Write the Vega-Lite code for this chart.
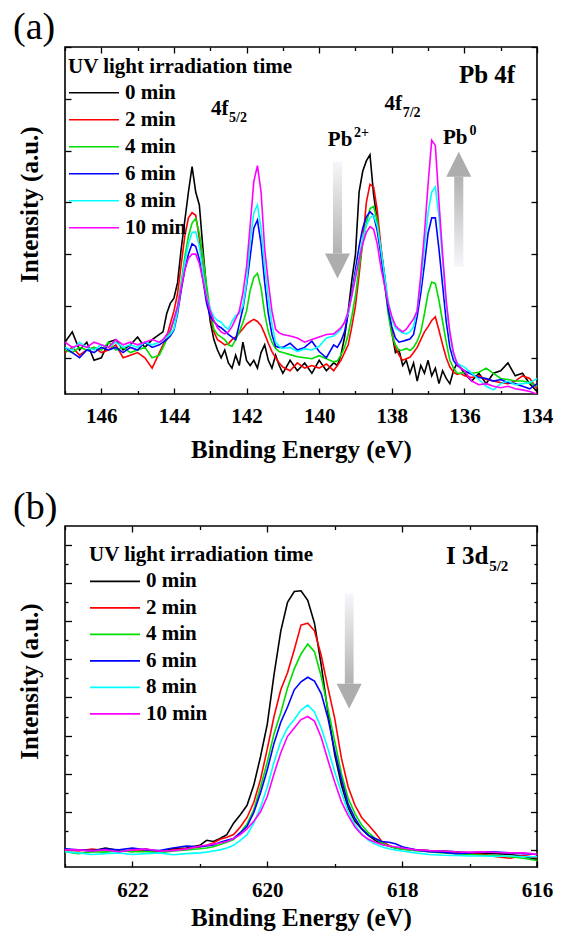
{
"$schema":"https://vega.github.io/schema/vega-lite/v6.json",
"background":"white",
"padding":{"left":12,"top":8,"right":0,"bottom":0},
"spacing":23,
"config":{
 "font":"Liberation Serif",
 "view":{"stroke":"#000","strokeWidth":1.6},
 "axis":{"labelFont":"Liberation Serif","titleFont":"Liberation Serif","labelColor":"#000","titleColor":"#000","tickColor":"#000","tickWidth":1.3,"domain":false,"grid":false,"labelFlush":false,"labelOverlap":false,"labelFontSize":21,"labelFontWeight":"bold","titleFontSize":25,"titleFontWeight":"bold"},
 "text":{"font":"Liberation Serif","fontWeight":"bold","color":"#000","align":"left","baseline":"alphabetic"}
},
"resolve":{"scale":{"color":"independent"}},
"datasets":{
"pa":[
{"s":"0 min","e":147,"i":0.3},{"s":"0 min","e":146.8,"i":0.5},{"s":"0 min","e":146.6,"i":0.15},{"s":"0 min","e":146.4,"i":0.3},{"s":"0 min","e":146.2,"i":-0.05},{"s":"0 min","e":146,"i":0},{"s":"0 min","e":145.8,"i":0.3},{"s":"0 min","e":145.6,"i":0.35},{"s":"0 min","e":145.4,"i":0.15},{"s":"0 min","e":145.2,"i":0.25},{"s":"0 min","e":145,"i":0.4},{"s":"0 min","e":144.8,"i":0.2},{"s":"0 min","e":144.6,"i":0.35},{"s":"0 min","e":144.4,"i":0.45},
{"s":"0 min","e":144.3,"i":0.5},{"s":"0 min","e":144.2,"i":0.85},{"s":"0 min","e":144.1,"i":1.05},{"s":"0 min","e":144,"i":1.15},{"s":"0 min","e":143.9,"i":1.45},{"s":"0 min","e":143.8,"i":2.1},{"s":"0 min","e":143.7,"i":2.65},{"s":"0 min","e":143.6,"i":3.2},{"s":"0 min","e":143.5,"i":3.69},{"s":"0 min","e":143.4,"i":3.2},{"s":"0 min","e":143.3,"i":2.95},{"s":"0 min","e":143.2,"i":2.1},{"s":"0 min","e":143.1,"i":1.3},{"s":"0 min","e":143,"i":0.7},{"s":"0 min","e":142.9,"i":0.35},{"s":"0 min","e":142.8,"i":0.15},{"s":"0 min","e":142.7,"i":0},{"s":"0 min","e":142.6,"i":0.15},{"s":"0 min","e":142.5,"i":-0.1},{"s":"0 min","e":142.4,"i":-0.2},{"s":"0 min","e":142.3,"i":0.05},{"s":"0 min","e":142.2,"i":-0.15},{"s":"0 min","e":142.1,"i":0.3},{"s":"0 min","e":142,"i":-0.05},{"s":"0 min","e":141.9,"i":-0.15},{"s":"0 min","e":141.8,"i":-0.05},{"s":"0 min","e":141.7,"i":-0.2},{"s":"0 min","e":141.6,"i":0.1},{"s":"0 min","e":141.5,"i":0.25},{"s":"0 min","e":141.4,"i":-0.05},{"s":"0 min","e":141.3,"i":-0.2},{"s":"0 min","e":141.2,"i":0.05},{"s":"0 min","e":141.1,"i":-0.15},{"s":"0 min","e":141,"i":-0.3},
{"s":"0 min","e":140.8,"i":-0.05},{"s":"0 min","e":140.6,"i":-0.25},{"s":"0 min","e":140.4,"i":-0.1},{"s":"0 min","e":140.2,"i":-0.3},{"s":"0 min","e":140,"i":-0.05},{"s":"0 min","e":139.8,"i":-0.25},{"s":"0 min","e":139.6,"i":-0.1},
{"s":"0 min","e":139.5,"i":-0.15},{"s":"0 min","e":139.4,"i":0.05},{"s":"0 min","e":139.3,"i":0.4},{"s":"0 min","e":139.2,"i":0.9},{"s":"0 min","e":139.1,"i":1.5},{"s":"0 min","e":139,"i":2},{"s":"0 min","e":138.9,"i":3.2},{"s":"0 min","e":138.8,"i":3.6},{"s":"0 min","e":138.7,"i":3.8},{"s":"0 min","e":138.6,"i":3.92},{"s":"0 min","e":138.5,"i":3.15},{"s":"0 min","e":138.4,"i":2.65},{"s":"0 min","e":138.3,"i":2.1},{"s":"0 min","e":138.2,"i":1.6},{"s":"0 min","e":138.1,"i":1},{"s":"0 min","e":138,"i":0.5},{"s":"0 min","e":137.9,"i":0.1},{"s":"0 min","e":137.8,"i":0.15},{"s":"0 min","e":137.7,"i":-0.15},{"s":"0 min","e":137.6,"i":-0.05},{"s":"0 min","e":137.5,"i":-0.3},{"s":"0 min","e":137.4,"i":-0.1},{"s":"0 min","e":137.3,"i":-0.45},{"s":"0 min","e":137.2,"i":-0.15},{"s":"0 min","e":137.1,"i":-0.3},{"s":"0 min","e":137,"i":-0.05},{"s":"0 min","e":136.9,"i":-0.35},{"s":"0 min","e":136.8,"i":-0.2},{"s":"0 min","e":136.7,"i":-0.5},{"s":"0 min","e":136.6,"i":-0.25},{"s":"0 min","e":136.5,"i":-0.4},{"s":"0 min","e":136.4,"i":-0.5},{"s":"0 min","e":136.3,"i":-0.25},{"s":"0 min","e":136.2,"i":-0.1},{"s":"0 min","e":136.1,"i":-0.2},{"s":"0 min","e":136,"i":-0.3},
{"s":"0 min","e":135.8,"i":-0.45},{"s":"0 min","e":135.6,"i":-0.3},{"s":"0 min","e":135.4,"i":-0.5},{"s":"0 min","e":135.2,"i":-0.3},{"s":"0 min","e":135,"i":-0.25},{"s":"0 min","e":134.8,"i":-0.1},{"s":"0 min","e":134.6,"i":-0.35},{"s":"0 min","e":134.4,"i":-0.3},{"s":"0 min","e":134.2,"i":-0.5},{"s":"0 min","e":134,"i":-0.65},

{"s":"2 min","e":147,"i":0.1},{"s":"2 min","e":146.8,"i":0.2},{"s":"2 min","e":146.6,"i":0.05},{"s":"2 min","e":146.4,"i":0.15},{"s":"2 min","e":146.2,"i":0.2},{"s":"2 min","e":146,"i":0.1},{"s":"2 min","e":145.8,"i":0.15},{"s":"2 min","e":145.6,"i":0.25},{"s":"2 min","e":145.4,"i":0},{"s":"2 min","e":145.2,"i":0.05},{"s":"2 min","e":145,"i":0.1},{"s":"2 min","e":144.8,"i":0},{"s":"2 min","e":144.6,"i":-0.2},{"s":"2 min","e":144.4,"i":0.1},
{"s":"2 min","e":144.3,"i":0.25},{"s":"2 min","e":144.2,"i":0.4},{"s":"2 min","e":144.1,"i":0.66},{"s":"2 min","e":144,"i":0.9},{"s":"2 min","e":143.9,"i":1.24},{"s":"2 min","e":143.8,"i":1.8},{"s":"2 min","e":143.7,"i":2.35},{"s":"2 min","e":143.6,"i":2.7},{"s":"2 min","e":143.5,"i":2.8},{"s":"2 min","e":143.4,"i":2.75},{"s":"2 min","e":143.3,"i":2.3},{"s":"2 min","e":143.2,"i":1.7},{"s":"2 min","e":143.1,"i":1.25},{"s":"2 min","e":143,"i":0.8},{"s":"2 min","e":142.9,"i":0.5},{"s":"2 min","e":142.8,"i":0.35},{"s":"2 min","e":142.7,"i":0.3},{"s":"2 min","e":142.6,"i":0.25},{"s":"2 min","e":142.5,"i":0.27},{"s":"2 min","e":142.4,"i":0.35},{"s":"2 min","e":142.3,"i":0.4},{"s":"2 min","e":142.2,"i":0.48},{"s":"2 min","e":142.1,"i":0.56},{"s":"2 min","e":142,"i":0.65},{"s":"2 min","e":141.9,"i":0.7},{"s":"2 min","e":141.8,"i":0.74},{"s":"2 min","e":141.7,"i":0.7},{"s":"2 min","e":141.6,"i":0.62},{"s":"2 min","e":141.5,"i":0.46},{"s":"2 min","e":141.4,"i":0.28},{"s":"2 min","e":141.3,"i":0.12},{"s":"2 min","e":141.2,"i":0},{"s":"2 min","e":141.1,"i":-0.1},{"s":"2 min","e":141,"i":-0.18},
{"s":"2 min","e":140.8,"i":-0.25},{"s":"2 min","e":140.6,"i":-0.1},{"s":"2 min","e":140.4,"i":-0.2},{"s":"2 min","e":140.2,"i":-0.15},{"s":"2 min","e":140,"i":-0.2},{"s":"2 min","e":139.8,"i":-0.12},{"s":"2 min","e":139.6,"i":-0.25},
{"s":"2 min","e":139.5,"i":-0.15},{"s":"2 min","e":139.4,"i":-0.05},{"s":"2 min","e":139.3,"i":0.1},{"s":"2 min","e":139.2,"i":0.25},{"s":"2 min","e":139.1,"i":0.6},{"s":"2 min","e":139,"i":1},{"s":"2 min","e":138.9,"i":1.6},{"s":"2 min","e":138.8,"i":2.25},{"s":"2 min","e":138.7,"i":3},{"s":"2 min","e":138.6,"i":3.35},{"s":"2 min","e":138.5,"i":3.3},{"s":"2 min","e":138.4,"i":2.85},{"s":"2 min","e":138.3,"i":2.15},{"s":"2 min","e":138.2,"i":1.55},{"s":"2 min","e":138.1,"i":0.95},{"s":"2 min","e":138,"i":0.5},{"s":"2 min","e":137.9,"i":0.2},{"s":"2 min","e":137.8,"i":0.05},{"s":"2 min","e":137.7,"i":-0.05},{"s":"2 min","e":137.6,"i":-0.02},{"s":"2 min","e":137.5,"i":0.01},{"s":"2 min","e":137.4,"i":0.1},{"s":"2 min","e":137.3,"i":0.2},{"s":"2 min","e":137.2,"i":0.35},{"s":"2 min","e":137.1,"i":0.5},{"s":"2 min","e":137,"i":0.6},{"s":"2 min","e":136.9,"i":0.72},{"s":"2 min","e":136.8,"i":0.79},{"s":"2 min","e":136.7,"i":0.53},{"s":"2 min","e":136.6,"i":0.25},{"s":"2 min","e":136.5,"i":0},{"s":"2 min","e":136.4,"i":-0.18},{"s":"2 min","e":136.3,"i":-0.28},{"s":"2 min","e":136.2,"i":-0.32},{"s":"2 min","e":136.1,"i":-0.3},{"s":"2 min","e":136,"i":-0.35},
{"s":"2 min","e":135.8,"i":-0.38},{"s":"2 min","e":135.6,"i":-0.35},{"s":"2 min","e":135.4,"i":-0.42},{"s":"2 min","e":135.2,"i":-0.45},{"s":"2 min","e":135,"i":-0.48},{"s":"2 min","e":134.8,"i":-0.5},{"s":"2 min","e":134.6,"i":-0.45},{"s":"2 min","e":134.4,"i":-0.35},{"s":"2 min","e":134.2,"i":-0.4},{"s":"2 min","e":134,"i":-0.6},

{"s":"4 min","e":147,"i":0.15},{"s":"4 min","e":146.8,"i":0.1},{"s":"4 min","e":146.6,"i":0.2},{"s":"4 min","e":146.4,"i":0.15},{"s":"4 min","e":146.2,"i":0.2},{"s":"4 min","e":146,"i":0.15},{"s":"4 min","e":145.8,"i":0.3},{"s":"4 min","e":145.6,"i":0.15},{"s":"4 min","e":145.4,"i":0.2},{"s":"4 min","e":145.2,"i":0.1},{"s":"4 min","e":145,"i":0.15},{"s":"4 min","e":144.8,"i":0.2},{"s":"4 min","e":144.6,"i":0},{"s":"4 min","e":144.4,"i":0.05},
{"s":"4 min","e":144.3,"i":0.2},{"s":"4 min","e":144.2,"i":0.35},{"s":"4 min","e":144.1,"i":0.5},{"s":"4 min","e":144,"i":0.72},{"s":"4 min","e":143.9,"i":1},{"s":"4 min","e":143.8,"i":1.45},{"s":"4 min","e":143.7,"i":1.95},{"s":"4 min","e":143.6,"i":2.35},{"s":"4 min","e":143.5,"i":2.6},{"s":"4 min","e":143.4,"i":2.69},{"s":"4 min","e":143.3,"i":2.4},{"s":"4 min","e":143.2,"i":1.95},{"s":"4 min","e":143.1,"i":1.4},{"s":"4 min","e":143,"i":0.9},{"s":"4 min","e":142.9,"i":0.55},{"s":"4 min","e":142.8,"i":0.45},{"s":"4 min","e":142.7,"i":0.4},{"s":"4 min","e":142.6,"i":0.35},{"s":"4 min","e":142.5,"i":0.25},{"s":"4 min","e":142.4,"i":0.22},{"s":"4 min","e":142.3,"i":0.35},{"s":"4 min","e":142.2,"i":0.5},{"s":"4 min","e":142.1,"i":0.68},{"s":"4 min","e":142,"i":0.9},{"s":"4 min","e":141.9,"i":1.3},{"s":"4 min","e":141.8,"i":1.55},{"s":"4 min","e":141.7,"i":1.63},{"s":"4 min","e":141.6,"i":1.35},{"s":"4 min","e":141.5,"i":0.85},{"s":"4 min","e":141.4,"i":0.5},{"s":"4 min","e":141.3,"i":0.3},{"s":"4 min","e":141.2,"i":0.18},{"s":"4 min","e":141.1,"i":0.12},{"s":"4 min","e":141,"i":0.1},
{"s":"4 min","e":140.8,"i":0.06},{"s":"4 min","e":140.6,"i":0.02},{"s":"4 min","e":140.4,"i":0},{"s":"4 min","e":140.2,"i":-0.02},{"s":"4 min","e":140,"i":0.04},{"s":"4 min","e":139.8,"i":-0.02},{"s":"4 min","e":139.6,"i":-0.08},
{"s":"4 min","e":139.5,"i":-0.06},{"s":"4 min","e":139.4,"i":0.05},{"s":"4 min","e":139.3,"i":0.2},{"s":"4 min","e":139.2,"i":0.45},{"s":"4 min","e":139.1,"i":0.8},{"s":"4 min","e":139,"i":1.2},{"s":"4 min","e":138.9,"i":1.75},{"s":"4 min","e":138.8,"i":2.2},{"s":"4 min","e":138.7,"i":2.6},{"s":"4 min","e":138.6,"i":2.88},{"s":"4 min","e":138.5,"i":2.92},{"s":"4 min","e":138.4,"i":2.65},{"s":"4 min","e":138.3,"i":2},{"s":"4 min","e":138.2,"i":1.45},{"s":"4 min","e":138.1,"i":0.85},{"s":"4 min","e":138,"i":0.45},{"s":"4 min","e":137.9,"i":0.25},{"s":"4 min","e":137.8,"i":0.14},{"s":"4 min","e":137.7,"i":0.15},{"s":"4 min","e":137.6,"i":0.18},{"s":"4 min","e":137.5,"i":0.14},{"s":"4 min","e":137.4,"i":0.2},{"s":"4 min","e":137.3,"i":0.32},{"s":"4 min","e":137.2,"i":0.5},{"s":"4 min","e":137.1,"i":0.85},{"s":"4 min","e":137,"i":1.24},{"s":"4 min","e":136.9,"i":1.46},{"s":"4 min","e":136.8,"i":1.43},{"s":"4 min","e":136.7,"i":1.11},{"s":"4 min","e":136.6,"i":0.7},{"s":"4 min","e":136.5,"i":0.3},{"s":"4 min","e":136.4,"i":-0.05},{"s":"4 min","e":136.3,"i":-0.2},{"s":"4 min","e":136.2,"i":-0.3},{"s":"4 min","e":136.1,"i":-0.3},{"s":"4 min","e":136,"i":-0.28},
{"s":"4 min","e":135.8,"i":-0.3},{"s":"4 min","e":135.6,"i":-0.28},{"s":"4 min","e":135.4,"i":-0.2},{"s":"4 min","e":135.2,"i":-0.3},{"s":"4 min","e":135,"i":-0.4},{"s":"4 min","e":134.8,"i":-0.42},{"s":"4 min","e":134.6,"i":-0.45},{"s":"4 min","e":134.4,"i":-0.45},{"s":"4 min","e":134.2,"i":-0.48},{"s":"4 min","e":134,"i":-0.55},

{"s":"6 min","e":147,"i":0.2},{"s":"6 min","e":146.8,"i":0.1},{"s":"6 min","e":146.6,"i":0},{"s":"6 min","e":146.4,"i":0.15},{"s":"6 min","e":146.2,"i":0.1},{"s":"6 min","e":146,"i":0.2},{"s":"6 min","e":145.8,"i":0.15},{"s":"6 min","e":145.6,"i":0.2},{"s":"6 min","e":145.4,"i":0.1},{"s":"6 min","e":145.2,"i":0.2},{"s":"6 min","e":145,"i":0.15},{"s":"6 min","e":144.8,"i":0.3},{"s":"6 min","e":144.6,"i":0.2},{"s":"6 min","e":144.4,"i":0.25},
{"s":"6 min","e":144.3,"i":0.3},{"s":"6 min","e":144.2,"i":0.35},{"s":"6 min","e":144.1,"i":0.42},{"s":"6 min","e":144,"i":0.53},{"s":"6 min","e":143.9,"i":0.85},{"s":"6 min","e":143.8,"i":1.3},{"s":"6 min","e":143.7,"i":1.7},{"s":"6 min","e":143.6,"i":2},{"s":"6 min","e":143.5,"i":2.2},{"s":"6 min","e":143.4,"i":2.15},{"s":"6 min","e":143.3,"i":1.9},{"s":"6 min","e":143.2,"i":1.5},{"s":"6 min","e":143.1,"i":1.05},{"s":"6 min","e":143,"i":0.8},{"s":"6 min","e":142.9,"i":0.7},{"s":"6 min","e":142.8,"i":0.62},{"s":"6 min","e":142.7,"i":0.58},{"s":"6 min","e":142.6,"i":0.52},{"s":"6 min","e":142.5,"i":0.45},{"s":"6 min","e":142.4,"i":0.4},{"s":"6 min","e":142.3,"i":0.35},{"s":"6 min","e":142.2,"i":0.65},{"s":"6 min","e":142.1,"i":0.95},{"s":"6 min","e":142,"i":1.4},{"s":"6 min","e":141.9,"i":1.95},{"s":"6 min","e":141.8,"i":2.5},{"s":"6 min","e":141.7,"i":2.66},{"s":"6 min","e":141.6,"i":2.2},{"s":"6 min","e":141.5,"i":1.45},{"s":"6 min","e":141.4,"i":0.85},{"s":"6 min","e":141.3,"i":0.45},{"s":"6 min","e":141.2,"i":0.22},{"s":"6 min","e":141.1,"i":0.2},{"s":"6 min","e":141,"i":0.2},
{"s":"6 min","e":140.8,"i":0.28},{"s":"6 min","e":140.6,"i":0.15},{"s":"6 min","e":140.4,"i":0.2},{"s":"6 min","e":140.2,"i":0.32},{"s":"6 min","e":140,"i":0.12},{"s":"6 min","e":139.8,"i":0},{"s":"6 min","e":139.6,"i":0.25},
{"s":"6 min","e":139.5,"i":0.2},{"s":"6 min","e":139.4,"i":0.32},{"s":"6 min","e":139.3,"i":0.5},{"s":"6 min","e":139.2,"i":0.85},{"s":"6 min","e":139.1,"i":1.25},{"s":"6 min","e":139,"i":1.7},{"s":"6 min","e":138.9,"i":2.15},{"s":"6 min","e":138.8,"i":2.5},{"s":"6 min","e":138.7,"i":2.72},{"s":"6 min","e":138.6,"i":2.82},{"s":"6 min","e":138.5,"i":2.75},{"s":"6 min","e":138.4,"i":2.45},{"s":"6 min","e":138.3,"i":2},{"s":"6 min","e":138.2,"i":1.45},{"s":"6 min","e":138.1,"i":0.95},{"s":"6 min","e":138,"i":0.6},{"s":"6 min","e":137.9,"i":0.38},{"s":"6 min","e":137.8,"i":0.3},{"s":"6 min","e":137.7,"i":0.32},{"s":"6 min","e":137.6,"i":0.34},{"s":"6 min","e":137.5,"i":0.36},{"s":"6 min","e":137.4,"i":0.45},{"s":"6 min","e":137.3,"i":0.8},{"s":"6 min","e":137.2,"i":1.25},{"s":"6 min","e":137.1,"i":1.8},{"s":"6 min","e":137,"i":2.4},{"s":"6 min","e":136.9,"i":2.7},{"s":"6 min","e":136.8,"i":2.7},{"s":"6 min","e":136.7,"i":2.1},{"s":"6 min","e":136.6,"i":1.4},{"s":"6 min","e":136.5,"i":0.7},{"s":"6 min","e":136.4,"i":0.2},{"s":"6 min","e":136.3,"i":-0.05},{"s":"6 min","e":136.2,"i":-0.15},{"s":"6 min","e":136.1,"i":-0.2},{"s":"6 min","e":136,"i":-0.25},
{"s":"6 min","e":135.8,"i":-0.32},{"s":"6 min","e":135.6,"i":-0.38},{"s":"6 min","e":135.4,"i":-0.4},{"s":"6 min","e":135.2,"i":-0.45},{"s":"6 min","e":135,"i":-0.42},{"s":"6 min","e":134.8,"i":-0.48},{"s":"6 min","e":134.6,"i":-0.5},{"s":"6 min","e":134.4,"i":-0.55},{"s":"6 min","e":134.2,"i":-0.6},{"s":"6 min","e":134,"i":-0.5},

{"s":"8 min","e":147,"i":0.2},{"s":"8 min","e":146.8,"i":0.15},{"s":"8 min","e":146.6,"i":0.3},{"s":"8 min","e":146.4,"i":0.2},{"s":"8 min","e":146.2,"i":0.15},{"s":"8 min","e":146,"i":0.25},{"s":"8 min","e":145.8,"i":0.2},{"s":"8 min","e":145.6,"i":0.3},{"s":"8 min","e":145.4,"i":0.2},{"s":"8 min","e":145.2,"i":0.25},{"s":"8 min","e":145,"i":0.2},{"s":"8 min","e":144.8,"i":0.3},{"s":"8 min","e":144.6,"i":0.25},{"s":"8 min","e":144.4,"i":0.3},
{"s":"8 min","e":144.3,"i":0.35},{"s":"8 min","e":144.2,"i":0.4},{"s":"8 min","e":144.1,"i":0.45},{"s":"8 min","e":144,"i":0.55},{"s":"8 min","e":143.9,"i":0.9},{"s":"8 min","e":143.8,"i":1.4},{"s":"8 min","e":143.7,"i":1.85},{"s":"8 min","e":143.6,"i":2.2},{"s":"8 min","e":143.5,"i":2.42},{"s":"8 min","e":143.4,"i":2.43},{"s":"8 min","e":143.3,"i":2.15},{"s":"8 min","e":143.2,"i":1.65},{"s":"8 min","e":143.1,"i":1.2},{"s":"8 min","e":143,"i":0.95},{"s":"8 min","e":142.9,"i":0.79},{"s":"8 min","e":142.8,"i":0.72},{"s":"8 min","e":142.7,"i":0.69},{"s":"8 min","e":142.6,"i":0.6},{"s":"8 min","e":142.5,"i":0.55},{"s":"8 min","e":142.4,"i":0.7},{"s":"8 min","e":142.3,"i":0.82},{"s":"8 min","e":142.2,"i":0.85},{"s":"8 min","e":142.1,"i":1},{"s":"8 min","e":142,"i":1.45},{"s":"8 min","e":141.9,"i":2.25},{"s":"8 min","e":141.8,"i":2.8},{"s":"8 min","e":141.7,"i":2.95},{"s":"8 min","e":141.6,"i":2.5},{"s":"8 min","e":141.5,"i":1.75},{"s":"8 min","e":141.4,"i":1.15},{"s":"8 min","e":141.3,"i":0.65},{"s":"8 min","e":141.2,"i":0.3},{"s":"8 min","e":141.1,"i":0.22},{"s":"8 min","e":141,"i":0.18},
{"s":"8 min","e":140.8,"i":0.2},{"s":"8 min","e":140.6,"i":0.12},{"s":"8 min","e":140.4,"i":0.17},{"s":"8 min","e":140.2,"i":0.15},{"s":"8 min","e":140,"i":0.22},{"s":"8 min","e":139.8,"i":0.38},{"s":"8 min","e":139.6,"i":0.42},
{"s":"8 min","e":139.5,"i":0.48},{"s":"8 min","e":139.4,"i":0.55},{"s":"8 min","e":139.3,"i":0.7},{"s":"8 min","e":139.2,"i":0.85},{"s":"8 min","e":139.1,"i":1.2},{"s":"8 min","e":139,"i":1.6},{"s":"8 min","e":138.9,"i":1.95},{"s":"8 min","e":138.8,"i":2.3},{"s":"8 min","e":138.7,"i":2.55},{"s":"8 min","e":138.6,"i":2.7},{"s":"8 min","e":138.5,"i":2.75},{"s":"8 min","e":138.4,"i":2.55},{"s":"8 min","e":138.3,"i":2.1},{"s":"8 min","e":138.2,"i":1.6},{"s":"8 min","e":138.1,"i":1.1},{"s":"8 min","e":138,"i":0.75},{"s":"8 min","e":137.9,"i":0.58},{"s":"8 min","e":137.8,"i":0.52},{"s":"8 min","e":137.7,"i":0.48},{"s":"8 min","e":137.6,"i":0.46},{"s":"8 min","e":137.5,"i":0.5},{"s":"8 min","e":137.4,"i":0.6},{"s":"8 min","e":137.3,"i":0.95},{"s":"8 min","e":137.2,"i":1.45},{"s":"8 min","e":137.1,"i":2.15},{"s":"8 min","e":137,"i":2.8},{"s":"8 min","e":136.9,"i":3.2},{"s":"8 min","e":136.8,"i":3.3},{"s":"8 min","e":136.7,"i":2.72},{"s":"8 min","e":136.6,"i":1.9},{"s":"8 min","e":136.5,"i":1},{"s":"8 min","e":136.4,"i":0.45},{"s":"8 min","e":136.3,"i":0.05},{"s":"8 min","e":136.2,"i":-0.1},{"s":"8 min","e":136.1,"i":-0.15},{"s":"8 min","e":136,"i":-0.18},
{"s":"8 min","e":135.8,"i":-0.3},{"s":"8 min","e":135.6,"i":-0.42},{"s":"8 min","e":135.4,"i":-0.55},{"s":"8 min","e":135.2,"i":-0.62},{"s":"8 min","e":135,"i":-0.5},{"s":"8 min","e":134.8,"i":-0.45},{"s":"8 min","e":134.6,"i":-0.52},{"s":"8 min","e":134.4,"i":-0.5},{"s":"8 min","e":134.2,"i":-0.48},{"s":"8 min","e":134,"i":-0.4},

{"s":"10 min","e":147,"i":0.3},{"s":"10 min","e":146.8,"i":0.2},{"s":"10 min","e":146.6,"i":0.25},{"s":"10 min","e":146.4,"i":0.2},{"s":"10 min","e":146.2,"i":0.3},{"s":"10 min","e":146,"i":0.25},{"s":"10 min","e":145.8,"i":0.2},{"s":"10 min","e":145.6,"i":0.35},{"s":"10 min","e":145.4,"i":0.25},{"s":"10 min","e":145.2,"i":0.3},{"s":"10 min","e":145,"i":0.25},{"s":"10 min","e":144.8,"i":0.3},{"s":"10 min","e":144.6,"i":0.35},{"s":"10 min","e":144.4,"i":0.3},
{"s":"10 min","e":144.3,"i":0.35},{"s":"10 min","e":144.2,"i":0.45},{"s":"10 min","e":144.1,"i":0.53},{"s":"10 min","e":144,"i":0.75},{"s":"10 min","e":143.9,"i":0.98},{"s":"10 min","e":143.8,"i":1.35},{"s":"10 min","e":143.7,"i":1.7},{"s":"10 min","e":143.6,"i":1.92},{"s":"10 min","e":143.5,"i":2},{"s":"10 min","e":143.4,"i":2},{"s":"10 min","e":143.3,"i":1.82},{"s":"10 min","e":143.2,"i":1.5},{"s":"10 min","e":143.1,"i":1.15},{"s":"10 min","e":143,"i":0.9},{"s":"10 min","e":142.9,"i":0.72},{"s":"10 min","e":142.8,"i":0.58},{"s":"10 min","e":142.7,"i":0.5},{"s":"10 min","e":142.6,"i":0.46},{"s":"10 min","e":142.5,"i":0.5},{"s":"10 min","e":142.4,"i":0.6},{"s":"10 min","e":142.3,"i":0.75},{"s":"10 min","e":142.2,"i":0.9},{"s":"10 min","e":142.1,"i":1.25},{"s":"10 min","e":142,"i":1.75},{"s":"10 min","e":141.9,"i":2.55},{"s":"10 min","e":141.8,"i":3.4},{"s":"10 min","e":141.7,"i":3.71},{"s":"10 min","e":141.6,"i":3.2},{"s":"10 min","e":141.5,"i":2.1},{"s":"10 min","e":141.4,"i":1.45},{"s":"10 min","e":141.3,"i":0.9},{"s":"10 min","e":141.2,"i":0.55},{"s":"10 min","e":141.1,"i":0.48},{"s":"10 min","e":141,"i":0.45},
{"s":"10 min","e":140.8,"i":0.42},{"s":"10 min","e":140.6,"i":0.38},{"s":"10 min","e":140.4,"i":0.3},{"s":"10 min","e":140.2,"i":0.35},{"s":"10 min","e":140,"i":0.4},{"s":"10 min","e":139.8,"i":0.45},{"s":"10 min","e":139.6,"i":0.46},
{"s":"10 min","e":139.5,"i":0.52},{"s":"10 min","e":139.4,"i":0.58},{"s":"10 min","e":139.3,"i":0.68},{"s":"10 min","e":139.2,"i":0.9},{"s":"10 min","e":139.1,"i":1.2},{"s":"10 min","e":139,"i":1.55},{"s":"10 min","e":138.9,"i":1.9},{"s":"10 min","e":138.8,"i":2.2},{"s":"10 min","e":138.7,"i":2.42},{"s":"10 min","e":138.6,"i":2.53},{"s":"10 min","e":138.5,"i":2.48},{"s":"10 min","e":138.4,"i":2.2},{"s":"10 min","e":138.3,"i":1.75},{"s":"10 min","e":138.2,"i":1.4},{"s":"10 min","e":138.1,"i":1.05},{"s":"10 min","e":138,"i":0.8},{"s":"10 min","e":137.9,"i":0.62},{"s":"10 min","e":137.8,"i":0.55},{"s":"10 min","e":137.7,"i":0.5},{"s":"10 min","e":137.6,"i":0.55},{"s":"10 min","e":137.5,"i":0.65},{"s":"10 min","e":137.4,"i":0.75},{"s":"10 min","e":137.3,"i":0.9},{"s":"10 min","e":137.2,"i":1.6},{"s":"10 min","e":137.1,"i":2.4},{"s":"10 min","e":137,"i":3.35},{"s":"10 min","e":136.9,"i":4.2},{"s":"10 min","e":136.8,"i":4.1},{"s":"10 min","e":136.7,"i":3},{"s":"10 min","e":136.6,"i":2},{"s":"10 min","e":136.5,"i":1.1},{"s":"10 min","e":136.4,"i":0.5},{"s":"10 min","e":136.3,"i":0.1},{"s":"10 min","e":136.2,"i":-0.12},{"s":"10 min","e":136.1,"i":-0.2},{"s":"10 min","e":136,"i":-0.25},
{"s":"10 min","e":135.8,"i":-0.45},{"s":"10 min","e":135.6,"i":-0.52},{"s":"10 min","e":135.4,"i":-0.5},{"s":"10 min","e":135.2,"i":-0.55},{"s":"10 min","e":135,"i":-0.58},{"s":"10 min","e":134.8,"i":-0.55},{"s":"10 min","e":134.6,"i":-0.6},{"s":"10 min","e":134.4,"i":-0.62},{"s":"10 min","e":134.2,"i":-0.65},{"s":"10 min","e":134,"i":-0.7}
],
"pb":[
{"s":"0 min","e":623,"i":-0.02},{"s":"0 min","e":622.8,"i":0},{"s":"0 min","e":622.6,"i":-0.03},{"s":"0 min","e":622.4,"i":0.05},{"s":"0 min","e":622.2,"i":-0.02},{"s":"0 min","e":622,"i":-0.04},{"s":"0 min","e":621.8,"i":0.02},{"s":"0 min","e":621.6,"i":-0.05},{"s":"0 min","e":621.4,"i":0.03},{"s":"0 min","e":621.2,"i":0.05},{"s":"0 min","e":621,"i":0.12},{"s":"0 min","e":620.9,"i":0.25},{"s":"0 min","e":620.8,"i":0.22},{"s":"0 min","e":620.7,"i":0.3},{"s":"0 min","e":620.6,"i":0.4},{"s":"0 min","e":620.5,"i":0.7},{"s":"0 min","e":620.4,"i":0.92},{"s":"0 min","e":620.3,"i":1.17},{"s":"0 min","e":620.2,"i":1.7},{"s":"0 min","e":620.1,"i":2.45},{"s":"0 min","e":620,"i":3.3},{"s":"0 min","e":619.9,"i":4.6},{"s":"0 min","e":619.8,"i":5.74},{"s":"0 min","e":619.7,"i":6.5},{"s":"0 min","e":619.6,"i":6.78},{"s":"0 min","e":619.5,"i":6.8},{"s":"0 min","e":619.4,"i":6.55},{"s":"0 min","e":619.3,"i":5.95},{"s":"0 min","e":619.2,"i":4.85},{"s":"0 min","e":619.1,"i":3.6},{"s":"0 min","e":619,"i":2.5},{"s":"0 min","e":618.9,"i":1.7},{"s":"0 min","e":618.8,"i":1.1},{"s":"0 min","e":618.7,"i":0.75},{"s":"0 min","e":618.6,"i":0.55},{"s":"0 min","e":618.5,"i":0.38},{"s":"0 min","e":618.4,"i":0.25},{"s":"0 min","e":618.3,"i":0.15},{"s":"0 min","e":618.2,"i":0.1},{"s":"0 min","e":618.1,"i":0.05},{"s":"0 min","e":618,"i":0.03},{"s":"0 min","e":617.8,"i":0},{"s":"0 min","e":617.6,"i":-0.02},{"s":"0 min","e":617.4,"i":-0.03},{"s":"0 min","e":617.2,"i":-0.05},{"s":"0 min","e":617,"i":-0.08},{"s":"0 min","e":616.8,"i":-0.1},{"s":"0 min","e":616.6,"i":-0.1},{"s":"0 min","e":616.4,"i":-0.12},{"s":"0 min","e":616.2,"i":-0.17},{"s":"0 min","e":616,"i":-0.25},
{"s":"2 min","e":623,"i":0},{"s":"2 min","e":622.8,"i":-0.03},{"s":"2 min","e":622.6,"i":0.02},{"s":"2 min","e":622.4,"i":-0.02},{"s":"2 min","e":622.2,"i":-0.05},{"s":"2 min","e":622,"i":0},{"s":"2 min","e":621.8,"i":-0.03},{"s":"2 min","e":621.6,"i":-0.05},{"s":"2 min","e":621.4,"i":0},{"s":"2 min","e":621.2,"i":0.03},{"s":"2 min","e":621,"i":0.08},{"s":"2 min","e":620.9,"i":0.12},{"s":"2 min","e":620.8,"i":0.18},{"s":"2 min","e":620.7,"i":0.28},{"s":"2 min","e":620.6,"i":0.33},{"s":"2 min","e":620.5,"i":0.4},{"s":"2 min","e":620.4,"i":0.6},{"s":"2 min","e":620.3,"i":0.85},{"s":"2 min","e":620.2,"i":1.25},{"s":"2 min","e":620.1,"i":1.85},{"s":"2 min","e":620,"i":2.65},{"s":"2 min","e":619.9,"i":3.5},{"s":"2 min","e":619.8,"i":4.2},{"s":"2 min","e":619.7,"i":4.65},{"s":"2 min","e":619.6,"i":5.25},{"s":"2 min","e":619.5,"i":5.9},{"s":"2 min","e":619.4,"i":5.95},{"s":"2 min","e":619.3,"i":5.75},{"s":"2 min","e":619.2,"i":5.1},{"s":"2 min","e":619.1,"i":4.25},{"s":"2 min","e":619,"i":3.45},{"s":"2 min","e":618.9,"i":2.4},{"s":"2 min","e":618.8,"i":1.65},{"s":"2 min","e":618.7,"i":1.17},{"s":"2 min","e":618.6,"i":0.85},{"s":"2 min","e":618.5,"i":0.65},{"s":"2 min","e":618.4,"i":0.45},{"s":"2 min","e":618.3,"i":0.22},{"s":"2 min","e":618.2,"i":0.12},{"s":"2 min","e":618.1,"i":0.05},{"s":"2 min","e":618,"i":0.02},{"s":"2 min","e":617.8,"i":0},{"s":"2 min","e":617.6,"i":-0.03},{"s":"2 min","e":617.4,"i":-0.05},{"s":"2 min","e":617.2,"i":-0.08},{"s":"2 min","e":617,"i":-0.1},{"s":"2 min","e":616.8,"i":-0.12},{"s":"2 min","e":616.6,"i":-0.18},{"s":"2 min","e":616.4,"i":-0.22},{"s":"2 min","e":616.2,"i":-0.15},{"s":"2 min","e":616,"i":-0.2},
{"s":"4 min","e":623,"i":-0.05},{"s":"4 min","e":622.8,"i":-0.1},{"s":"4 min","e":622.6,"i":-0.05},{"s":"4 min","e":622.4,"i":-0.06},{"s":"4 min","e":622.2,"i":-0.02},{"s":"4 min","e":622,"i":-0.05},{"s":"4 min","e":621.8,"i":-0.04},{"s":"4 min","e":621.6,"i":-0.08},{"s":"4 min","e":621.4,"i":-0.03},{"s":"4 min","e":621.2,"i":0},{"s":"4 min","e":621,"i":0.03},{"s":"4 min","e":620.9,"i":0.05},{"s":"4 min","e":620.8,"i":0.08},{"s":"4 min","e":620.7,"i":0.14},{"s":"4 min","e":620.6,"i":0.2},{"s":"4 min","e":620.5,"i":0.27},{"s":"4 min","e":620.4,"i":0.45},{"s":"4 min","e":620.3,"i":0.68},{"s":"4 min","e":620.2,"i":1.05},{"s":"4 min","e":620.1,"i":1.65},{"s":"4 min","e":620,"i":2.3},{"s":"4 min","e":619.9,"i":3.05},{"s":"4 min","e":619.8,"i":3.6},{"s":"4 min","e":619.7,"i":4.25},{"s":"4 min","e":619.6,"i":4.75},{"s":"4 min","e":619.5,"i":5.14},{"s":"4 min","e":619.4,"i":5.4},{"s":"4 min","e":619.3,"i":5.2},{"s":"4 min","e":619.2,"i":4.55},{"s":"4 min","e":619.1,"i":3.7},{"s":"4 min","e":619,"i":2.85},{"s":"4 min","e":618.9,"i":2},{"s":"4 min","e":618.8,"i":1.35},{"s":"4 min","e":618.7,"i":0.95},{"s":"4 min","e":618.6,"i":0.65},{"s":"4 min","e":618.5,"i":0.45},{"s":"4 min","e":618.4,"i":0.3},{"s":"4 min","e":618.3,"i":0.18},{"s":"4 min","e":618.2,"i":0.1},{"s":"4 min","e":618.1,"i":0.05},{"s":"4 min","e":618,"i":0.02},{"s":"4 min","e":617.8,"i":-0.02},{"s":"4 min","e":617.6,"i":-0.05},{"s":"4 min","e":617.4,"i":-0.08},{"s":"4 min","e":617.2,"i":-0.1},{"s":"4 min","e":617,"i":-0.12},{"s":"4 min","e":616.8,"i":-0.14},{"s":"4 min","e":616.6,"i":-0.15},{"s":"4 min","e":616.4,"i":-0.18},{"s":"4 min","e":616.2,"i":-0.22},{"s":"4 min","e":616,"i":-0.28},
{"s":"6 min","e":623,"i":0.03},{"s":"6 min","e":622.8,"i":0},{"s":"6 min","e":622.6,"i":-0.02},{"s":"6 min","e":622.4,"i":0.02},{"s":"6 min","e":622.2,"i":0},{"s":"6 min","e":622,"i":0.05},{"s":"6 min","e":621.8,"i":0},{"s":"6 min","e":621.6,"i":-0.02},{"s":"6 min","e":621.4,"i":0.05},{"s":"6 min","e":621.2,"i":0.1},{"s":"6 min","e":621,"i":0.08},{"s":"6 min","e":620.9,"i":0.1},{"s":"6 min","e":620.8,"i":0.13},{"s":"6 min","e":620.7,"i":0.2},{"s":"6 min","e":620.6,"i":0.25},{"s":"6 min","e":620.5,"i":0.3},{"s":"6 min","e":620.4,"i":0.45},{"s":"6 min","e":620.3,"i":0.62},{"s":"6 min","e":620.2,"i":0.98},{"s":"6 min","e":620.1,"i":1.5},{"s":"6 min","e":620,"i":2.1},{"s":"6 min","e":619.9,"i":2.8},{"s":"6 min","e":619.8,"i":3.35},{"s":"6 min","e":619.7,"i":3.75},{"s":"6 min","e":619.6,"i":4.2},{"s":"6 min","e":619.5,"i":4.41},{"s":"6 min","e":619.4,"i":4.53},{"s":"6 min","e":619.3,"i":4.43},{"s":"6 min","e":619.2,"i":4.1},{"s":"6 min","e":619.1,"i":3.45},{"s":"6 min","e":619,"i":2.6},{"s":"6 min","e":618.9,"i":1.85},{"s":"6 min","e":618.8,"i":1.2},{"s":"6 min","e":618.7,"i":0.83},{"s":"6 min","e":618.6,"i":0.55},{"s":"6 min","e":618.5,"i":0.38},{"s":"6 min","e":618.4,"i":0.3},{"s":"6 min","e":618.3,"i":0.22},{"s":"6 min","e":618.2,"i":0.2},{"s":"6 min","e":618.1,"i":0.16},{"s":"6 min","e":618,"i":0.08},{"s":"6 min","e":617.8,"i":0},{"s":"6 min","e":617.6,"i":-0.05},{"s":"6 min","e":617.4,"i":-0.06},{"s":"6 min","e":617.2,"i":-0.1},{"s":"6 min","e":617,"i":-0.08},{"s":"6 min","e":616.8,"i":-0.05},{"s":"6 min","e":616.6,"i":-0.06},{"s":"6 min","e":616.4,"i":-0.08},{"s":"6 min","e":616.2,"i":-0.1},{"s":"6 min","e":616,"i":-0.12},
{"s":"8 min","e":623,"i":-0.05},{"s":"8 min","e":622.8,"i":-0.08},{"s":"8 min","e":622.6,"i":-0.12},{"s":"8 min","e":622.4,"i":-0.1},{"s":"8 min","e":622.2,"i":-0.08},{"s":"8 min","e":622,"i":-0.12},{"s":"8 min","e":621.8,"i":-0.1},{"s":"8 min","e":621.6,"i":-0.08},{"s":"8 min","e":621.4,"i":-0.13},{"s":"8 min","e":621.2,"i":-0.1},{"s":"8 min","e":621,"i":-0.08},{"s":"8 min","e":620.9,"i":-0.06},{"s":"8 min","e":620.8,"i":-0.03},{"s":"8 min","e":620.7,"i":0},{"s":"8 min","e":620.6,"i":0.05},{"s":"8 min","e":620.5,"i":0.12},{"s":"8 min","e":620.4,"i":0.25},{"s":"8 min","e":620.3,"i":0.4},{"s":"8 min","e":620.2,"i":0.7},{"s":"8 min","e":620.1,"i":1.12},{"s":"8 min","e":620,"i":1.65},{"s":"8 min","e":619.9,"i":2.3},{"s":"8 min","e":619.8,"i":2.85},{"s":"8 min","e":619.7,"i":3.2},{"s":"8 min","e":619.6,"i":3.42},{"s":"8 min","e":619.5,"i":3.67},{"s":"8 min","e":619.4,"i":3.8},{"s":"8 min","e":619.3,"i":3.62},{"s":"8 min","e":619.2,"i":3.2},{"s":"8 min","e":619.1,"i":2.65},{"s":"8 min","e":619,"i":2.05},{"s":"8 min","e":618.9,"i":1.5},{"s":"8 min","e":618.8,"i":1},{"s":"8 min","e":618.7,"i":0.66},{"s":"8 min","e":618.6,"i":0.42},{"s":"8 min","e":618.5,"i":0.25},{"s":"8 min","e":618.4,"i":0.15},{"s":"8 min","e":618.3,"i":0.08},{"s":"8 min","e":618.2,"i":0.03},{"s":"8 min","e":618.1,"i":0},{"s":"8 min","e":618,"i":-0.03},{"s":"8 min","e":617.8,"i":-0.08},{"s":"8 min","e":617.6,"i":-0.12},{"s":"8 min","e":617.4,"i":-0.14},{"s":"8 min","e":617.2,"i":-0.15},{"s":"8 min","e":617,"i":-0.16},{"s":"8 min","e":616.8,"i":-0.16},{"s":"8 min","e":616.6,"i":-0.17},{"s":"8 min","e":616.4,"i":-0.16},{"s":"8 min","e":616.2,"i":-0.18},{"s":"8 min","e":616,"i":-0.18},
{"s":"10 min","e":623,"i":0},{"s":"10 min","e":622.8,"i":0},{"s":"10 min","e":622.6,"i":-0.03},{"s":"10 min","e":622.4,"i":0},{"s":"10 min","e":622.2,"i":-0.05},{"s":"10 min","e":622,"i":0},{"s":"10 min","e":621.8,"i":0.02},{"s":"10 min","e":621.6,"i":-0.03},{"s":"10 min","e":621.4,"i":-0.02},{"s":"10 min","e":621.2,"i":0.02},{"s":"10 min","e":621,"i":0.1},{"s":"10 min","e":620.9,"i":0.12},{"s":"10 min","e":620.8,"i":0.15},{"s":"10 min","e":620.7,"i":0.18},{"s":"10 min","e":620.6,"i":0.22},{"s":"10 min","e":620.5,"i":0.3},{"s":"10 min","e":620.4,"i":0.4},{"s":"10 min","e":620.3,"i":0.55},{"s":"10 min","e":620.2,"i":0.75},{"s":"10 min","e":620.1,"i":1},{"s":"10 min","e":620,"i":1.4},{"s":"10 min","e":619.9,"i":2},{"s":"10 min","e":619.8,"i":2.55},{"s":"10 min","e":619.7,"i":2.98},{"s":"10 min","e":619.6,"i":3.2},{"s":"10 min","e":619.5,"i":3.42},{"s":"10 min","e":619.4,"i":3.5},{"s":"10 min","e":619.3,"i":3.38},{"s":"10 min","e":619.2,"i":2.95},{"s":"10 min","e":619.1,"i":2.35},{"s":"10 min","e":619,"i":1.78},{"s":"10 min","e":618.9,"i":1.26},{"s":"10 min","e":618.8,"i":0.9},{"s":"10 min","e":618.7,"i":0.6},{"s":"10 min","e":618.6,"i":0.4},{"s":"10 min","e":618.5,"i":0.28},{"s":"10 min","e":618.4,"i":0.2},{"s":"10 min","e":618.3,"i":0.14},{"s":"10 min","e":618.2,"i":0.1},{"s":"10 min","e":618.1,"i":0.08},{"s":"10 min","e":618,"i":0.05},{"s":"10 min","e":617.8,"i":0},{"s":"10 min","e":617.6,"i":-0.02},{"s":"10 min","e":617.4,"i":-0.03},{"s":"10 min","e":617.2,"i":-0.05},{"s":"10 min","e":617,"i":-0.06},{"s":"10 min","e":616.8,"i":-0.05},{"s":"10 min","e":616.6,"i":-0.07},{"s":"10 min","e":616.4,"i":-0.08},{"s":"10 min","e":616.2,"i":-0.08},{"s":"10 min","e":616,"i":-0.12}
],
"ann":[
{"p":"a","k":"lab","t":"(a)","x":148.43,"y":6.154},
{"p":"a","k":"big","t":"4f","x":142.98,"y":4.68},
{"p":"a","k":"sub","t":"5/2","x":142.48,"y":4.545},
{"p":"a","k":"big","t":"4f","x":138.2,"y":4.78},
{"p":"a","k":"sub","t":"7/2","x":137.7,"y":4.65},
{"p":"a","k":"big","t":"Pb","x":139.76,"y":4.08},
{"p":"a","k":"sub","t":"2+","x":139.04,"y":4.27},
{"p":"a","k":"big","t":"Pb","x":136.59,"y":4.13},
{"p":"a","k":"sub","t":"0","x":135.86,"y":4.295},
{"p":"a","k":"head","t":"Pb 4f","x":136.15,"y":5.3},
{"p":"b","k":"lab","t":"(b)","x":623.77,"y":8.69},
{"p":"b","k":"head","t":"I 3d","x":617.35,"y":7.5},
{"p":"b","k":"hsub","t":"5/2","x":616.71,"y":7.32}
],
"arr":[
{"p":"a","d":"down","x1":139.37,"x2":139.62,"y1":2.013,"y2":3.786,"hx":139.495,"hy":1.771},
{"p":"a","d":"up","x1":136.03,"x2":136.28,"y1":1.755,"y2":3.495,"hx":136.155,"hy":3.736},
{"p":"b","d":"down","x1":618.72,"x2":618.85,"y1":4.357,"y2":6.72,"hx":618.785,"hy":4.034}
]
},
"vconcat":[
{
"width":472,"height":347,
"resolve":{"axis":{"x":"independent","y":"independent"}},
"layer":[
{"data":{"name":"pa"},"mark":{"type":"line","strokeWidth":1.6,"clip":true},
 "encoding":{
  "x":{"field":"e","type":"quantitative","scale":{"domain":[134,147],"reverse":true,"nice":false,"zero":false},
   "axis":{"orient":"bottom","values":[134,135,136,137,138,139,140,141,142,143,144,145,146,147],"labelExpr":"datum.value % 2 === 0 ? datum.label : ''","tickSize":{"condition":{"test":"datum.value % 2 === 0","value":-6},"value":-3.5},"labelPadding":17,"title":"Binding Energy (eV)","titleX":236,"titleY":63.5,"titleBaseline":"alphabetic","titleAlign":"center"}},
  "y":{"field":"i","type":"quantitative","scale":{"domain":[-0.7,6],"nice":false,"zero":false},
   "axis":{"orient":"left","values":[0,1,2,3,4,5,6],"labels":false,"tickSize":-6,"title":"Intensity (a.u.)","titleX":-28,"titleY":157,"titleAngle":-90,"titleBaseline":"alphabetic","titleAlign":"center"}},
  "color":{"field":"s","type":"nominal","scale":{"domain":["0 min","2 min","4 min","6 min","8 min","10 min"],"range":["#000000","#ff0000","#00dd00","#0000ff","#00ffff","#ff00ff"]},
   "legend":{"orient":"none","legendX":3,"legendY":8.7,"padding":0,"title":"UV light irradiation time","titleFont":"Liberation Serif","titleFontSize":21,"titleFontWeight":"bold","titleColor":"#000","titleLimit":400,"titlePadding":5,"labelFont":"Liberation Serif","labelFontSize":21,"labelFontWeight":"bold","labelColor":"#000","labelOffset":35,"labelLimit":300,"symbolType":"M-1,0H4","symbolSize":400,"symbolStrokeWidth":1.6,"rowPadding":6}}
 }},
{"data":{"name":"arr"},"transform":[{"filter":"datum.p==='a' && datum.d==='down'"}],
 "mark":{"type":"rect","stroke":null,"fill":{"gradient":"linear","x1":0,"y1":0,"x2":0,"y2":1,"stops":[{"offset":0,"color":"#f5f7fa"},{"offset":1,"color":"#b2b2b2"}]}},
 "encoding":{
  "x":{"field":"x1","type":"quantitative","axis":{"orient":"top","values":[134,135,136,137,138,139,140,141,142,143,144,145,146,147],"labels":false,"tickSize":{"condition":{"test":"datum.value % 2 === 0","value":-6},"value":-3.5},"title":null}},
  "x2":{"field":"x2"},
  "y":{"field":"y1","type":"quantitative","axis":{"orient":"right","values":[0,1,2,3,4,5,6],"labels":false,"tickSize":-6,"title":null}},
  "y2":{"field":"y2"}
 }},
{"data":{"name":"arr"},"transform":[{"filter":"datum.p==='a' && datum.d==='up'"}],
 "mark":{"type":"rect","stroke":null,"fill":{"gradient":"linear","x1":0,"y1":0,"x2":0,"y2":1,"stops":[{"offset":0,"color":"#b2b2b2"},{"offset":1,"color":"#f5f7fa"}]}},
 "encoding":{
  "x":{"field":"x1","type":"quantitative","axis":null},"x2":{"field":"x2"},
  "y":{"field":"y1","type":"quantitative","axis":null},"y2":{"field":"y2"}
 }},
{"data":{"name":"arr"},"transform":[{"filter":"datum.p==='a' && datum.d==='down'"}],
 "mark":{"type":"point","shape":"M-1,-1L1,-1L0,1Z","size":625,"filled":true,"fill":"#adadad","opacity":1,"strokeWidth":0},
 "encoding":{"x":{"field":"hx","type":"quantitative","axis":null},"y":{"field":"hy","type":"quantitative","axis":null}}},
{"data":{"name":"arr"},"transform":[{"filter":"datum.p==='a' && datum.d==='up'"}],
 "mark":{"type":"point","shape":"M-1,1L1,1L0,-1Z","size":625,"filled":true,"fill":"#adadad","opacity":1,"strokeWidth":0},
 "encoding":{"x":{"field":"hx","type":"quantitative","axis":null},"y":{"field":"hy","type":"quantitative","axis":null}}},
{"data":{"name":"ann"},"transform":[{"filter":"datum.p==='a' && datum.k==='big'"}],
 "mark":{"type":"text","fontSize":21},
 "encoding":{"x":{"field":"x","type":"quantitative","axis":null},"y":{"field":"y","type":"quantitative","axis":null},"text":{"field":"t"}}},
{"data":{"name":"ann"},"transform":[{"filter":"datum.p==='a' && datum.k==='sub'"}],
 "mark":{"type":"text","fontSize":14},
 "encoding":{"x":{"field":"x","type":"quantitative","axis":null},"y":{"field":"y","type":"quantitative","axis":null},"text":{"field":"t"}}},
{"data":{"name":"ann"},"transform":[{"filter":"datum.p==='a' && datum.k==='head'"}],
 "mark":{"type":"text","fontSize":25},
 "encoding":{"x":{"field":"x","type":"quantitative","axis":null},"y":{"field":"y","type":"quantitative","axis":null},"text":{"field":"t"}}},
{"data":{"name":"ann"},"transform":[{"filter":"datum.p==='a' && datum.k==='lab'"}],
 "mark":{"type":"text","fontSize":38,"fontWeight":"normal"},
 "encoding":{"x":{"field":"x","type":"quantitative","axis":null},"y":{"field":"y","type":"quantitative","axis":null},"text":{"field":"t"}}}
]
},
{
"width":472,"height":341,
"resolve":{"axis":{"x":"independent","y":"independent"}},
"layer":[
{"data":{"name":"pb"},"mark":{"type":"line","strokeWidth":1.6,"clip":true},
 "encoding":{
  "x":{"field":"e","type":"quantitative","scale":{"domain":[616,623],"reverse":true,"nice":false,"zero":false},
   "axis":{"orient":"bottom","values":[616,617,618,619,620,621,622,623],"labelExpr":"datum.value % 2 === 0 ? datum.label : ''","tickSize":{"condition":{"test":"datum.value % 2 === 0","value":-6},"value":-3.5},"labelPadding":18,"title":"Binding Energy (eV)","titleX":236,"titleY":58,"titleBaseline":"alphabetic","titleAlign":"center"}},
  "y":{"field":"i","type":"quantitative","scale":{"domain":[-0.45,8.5],"nice":false,"zero":false},
   "axis":{"orient":"left","values":[0,0.5,1,1.5,2,2.5,3,3.5,4,4.5,5,5.5,6,6.5,7,7.5,8],"labels":false,"tickSize":{"condition":{"test":"datum.value % 1 === 0","value":-6.5},"value":-3},"title":"Intensity (a.u.)","titleX":-28,"titleY":155,"titleAngle":-90,"titleBaseline":"alphabetic","titleAlign":"center"}},
  "color":{"field":"s","type":"nominal","scale":{"domain":["0 min","2 min","4 min","6 min","8 min","10 min"],"range":["#000000","#ff0000","#00dd00","#0000ff","#00ffff","#ff00ff"]},
   "legend":{"orient":"none","legendX":24,"legendY":18.4,"padding":0,"title":"UV light irradiation time","titleFont":"Liberation Serif","titleFontSize":21,"titleFontWeight":"bold","titleColor":"#000","titleLimit":400,"titlePadding":5,"labelFont":"Liberation Serif","labelFontSize":21,"labelFontWeight":"bold","labelColor":"#000","labelOffset":35,"labelLimit":300,"symbolType":"M-1,0H4","symbolSize":400,"symbolStrokeWidth":1.6,"rowPadding":5.5}}
 }},
{"data":{"name":"arr"},"transform":[{"filter":"datum.p==='b'"}],
 "mark":{"type":"rect","stroke":null,"fill":{"gradient":"linear","x1":0,"y1":0,"x2":0,"y2":1,"stops":[{"offset":0,"color":"#f5f7fa"},{"offset":1,"color":"#b2b2b2"}]}},
 "encoding":{
  "x":{"field":"x1","type":"quantitative","axis":{"orient":"top","values":[616,617,618,619,620,621,622,623],"labels":false,"tickSize":{"condition":{"test":"datum.value % 2 === 0","value":-6},"value":-3.5},"title":null}},
  "x2":{"field":"x2"},
  "y":{"field":"y1","type":"quantitative","axis":{"orient":"right","values":[0,0.5,1,1.5,2,2.5,3,3.5,4,4.5,5,5.5,6,6.5,7,7.5,8],"labels":false,"tickSize":{"condition":{"test":"datum.value % 1 === 0","value":-6.5},"value":-3},"title":null}},
  "y2":{"field":"y2"}
 }},
{"data":{"name":"arr"},"transform":[{"filter":"datum.p==='b'"}],
 "mark":{"type":"point","shape":"M-1,-1L1,-1L0,1Z","size":625,"filled":true,"fill":"#adadad","opacity":1,"strokeWidth":0},
 "encoding":{"x":{"field":"hx","type":"quantitative","axis":null},"y":{"field":"hy","type":"quantitative","axis":null}}},
{"data":{"name":"ann"},"transform":[{"filter":"datum.p==='b' && datum.k==='head'"}],
 "mark":{"type":"text","fontSize":25},
 "encoding":{"x":{"field":"x","type":"quantitative","axis":null},"y":{"field":"y","type":"quantitative","axis":null},"text":{"field":"t"}}},
{"data":{"name":"ann"},"transform":[{"filter":"datum.p==='b' && datum.k==='hsub'"}],
 "mark":{"type":"text","fontSize":15},
 "encoding":{"x":{"field":"x","type":"quantitative","axis":null},"y":{"field":"y","type":"quantitative","axis":null},"text":{"field":"t"}}},
{"data":{"name":"ann"},"transform":[{"filter":"datum.p==='b' && datum.k==='lab'"}],
 "mark":{"type":"text","fontSize":38,"fontWeight":"normal"},
 "encoding":{"x":{"field":"x","type":"quantitative","axis":null},"y":{"field":"y","type":"quantitative","axis":null},"text":{"field":"t"}}}
]
}
]
}
